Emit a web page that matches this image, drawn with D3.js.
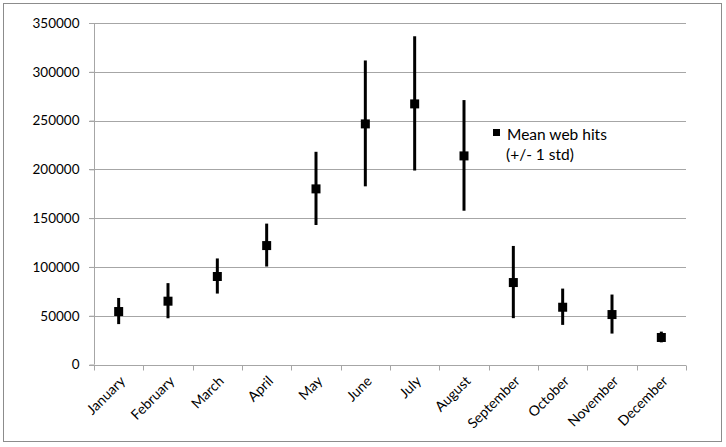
<!DOCTYPE html>
<html>
<head>
<meta charset="utf-8">
<script src="https://cdn.jsdelivr.net/npm/d3@7"></script>
<style>
  body { margin: 0; background: #fff; }
  svg text { font-family: Lato, "Open Sans", sans-serif; fill: #000; }
</style>
</head>
<body>
<div id="canvas"></div>
<script>
// web hits per month, mean and one std

var width = 726;
var height = 447;

var months = ["January", "February", "March", "April", "May", "June",
              "July", "August", "September", "October", "November", "December"];
var meanHits = [54800, 65400, 90700, 122400, 180500, 247100,
                267600, 214300, 84500, 59200, 51700, 28200];
var stdHits = [13400, 18000, 18000, 22000, 37500, 64500,
               68800, 56700, 37000, 18600, 20000, 5500];
var yTicks = [0, 50000, 100000, 150000, 200000, 250000, 300000, 350000];

var legendLines = ["Mean web hits", "(+/- 1 std)"];

var margin = {left: 94, right: 40, top: 23, bottom: 82.5};

var svg = d3.select("#canvas").append("svg")
	.attr("width", width)
	.attr("height", height);

// outer frame
svg.append("rect")
	.attr("x", 3.5).attr("y", 3.5)
	.attr("width", 718).attr("height", 438)
	.style("fill", "#fff")
	.style("stroke", "#8c8c8c")
	.style("stroke-width", 1);

var x = d3.scaleBand()
	.domain(months)
	.range([margin.left, width - margin.right]);

var y = d3.scaleLinear()
	.domain([0, 350000])
	.range([height - margin.bottom, margin.top]);

// gridlines
svg.append("g")
	.selectAll("line")
	.data(yTicks)
	.enter()
	.append("line")
	.attr("x1", margin.left - 5)
	.attr("x2", width - margin.right)
	.attr("y1", function(d){ return Math.round(y(d)) + 0.5; })
	.attr("y2", function(d){ return Math.round(y(d)) + 0.5; })
	.style("stroke", "#a6a6a6")
	.style("stroke-width", 1);

// y axis
var yAxis = svg.append("g")
	.attr("transform", "translate(" + (margin.left + 0.5) + ",0)")
	.call(d3.axisLeft(y).tickValues(yTicks).tickFormat(d3.format("d")).tickSize(5).tickPadding(10));
yAxis.select(".domain").style("stroke", "#a6a6a6").attr("d", "M0," + y(0) + "V" + y(350000));
yAxis.selectAll(".tick line").style("stroke", "#a6a6a6");
yAxis.selectAll("text").style("font-size", "13.5px").style("font-family", "Lato, sans-serif");

// x axis line and ticks at category edges
var y0 = Math.round(y(0)) + 0.5;
var edges = months.map(function(m){ return x(m); }).concat([width - margin.right]);
svg.append("line")
	.attr("x1", margin.left).attr("x2", width - margin.right)
	.attr("y1", y0).attr("y2", y0)
	.style("stroke", "#a6a6a6");
svg.append("g")
	.selectAll("line")
	.data(edges)
	.enter()
	.append("line")
	.attr("x1", function(d){ return Math.round(d) + 0.5; })
	.attr("x2", function(d){ return Math.round(d) + 0.5; })
	.attr("y1", y0).attr("y2", y0 + 5)
	.style("stroke", "#a6a6a6");

// month labels
svg.append("g")
	.selectAll("text")
	.data(months)
	.enter()
	.append("text")
	.attr("transform", function(d){
		return "translate(" + (x(d) + x.bandwidth() / 2 + 4) + "," + (y0 + 13) + ") rotate(-45)";
	})
	.attr("text-anchor", "end")
	.attr("dy", "0.35em")
	.style("font-size", "14px")
	.text(function(d){ return d; });

// error bars
var pts = months.map(function(m, i){
	return {month: m, mean: meanHits[i], std: stdHits[i]};
});

svg.append("g")
	.selectAll("line")
	.data(pts)
	.enter()
	.append("line")
	.attr("x1", function(d){ return x(d.month) + x.bandwidth() / 2; })
	.attr("x2", function(d){ return x(d.month) + x.bandwidth() / 2; })
	.attr("y1", function(d){ return y(d.mean + d.std); })
	.attr("y2", function(d){ return y(d.mean - d.std); })
	.style("stroke", "#000")
	.style("stroke-width", 3);

svg.append("g")
	.selectAll("rect")
	.data(pts)
	.enter()
	.append("rect")
	.attr("x", function(d){ return x(d.month) + x.bandwidth() / 2 - 4.5; })
	.attr("y", function(d){ return y(d.mean) - 4; })
	.attr("width", 9)
	.attr("height", 9)
	.style("fill", "#000");

// legend
var legend = svg.append("g").attr("transform", "translate(493,129)");
legend.append("rect")
	.attr("x", 0).attr("y", 0)
	.attr("width", 7).attr("height", 7)
	.style("fill", "#000");
legend.selectAll("text")
	.data(legendLines)
	.enter()
	.append("text")
	.attr("x", function(d, i){ return i == 0 ? 14 : 13; })
	.attr("y", function(d, i){ return 11 + i * 20; })
	.style("font-size", "15.5px")
	.text(function(d){ return d; });
</script>
</body>
</html>
